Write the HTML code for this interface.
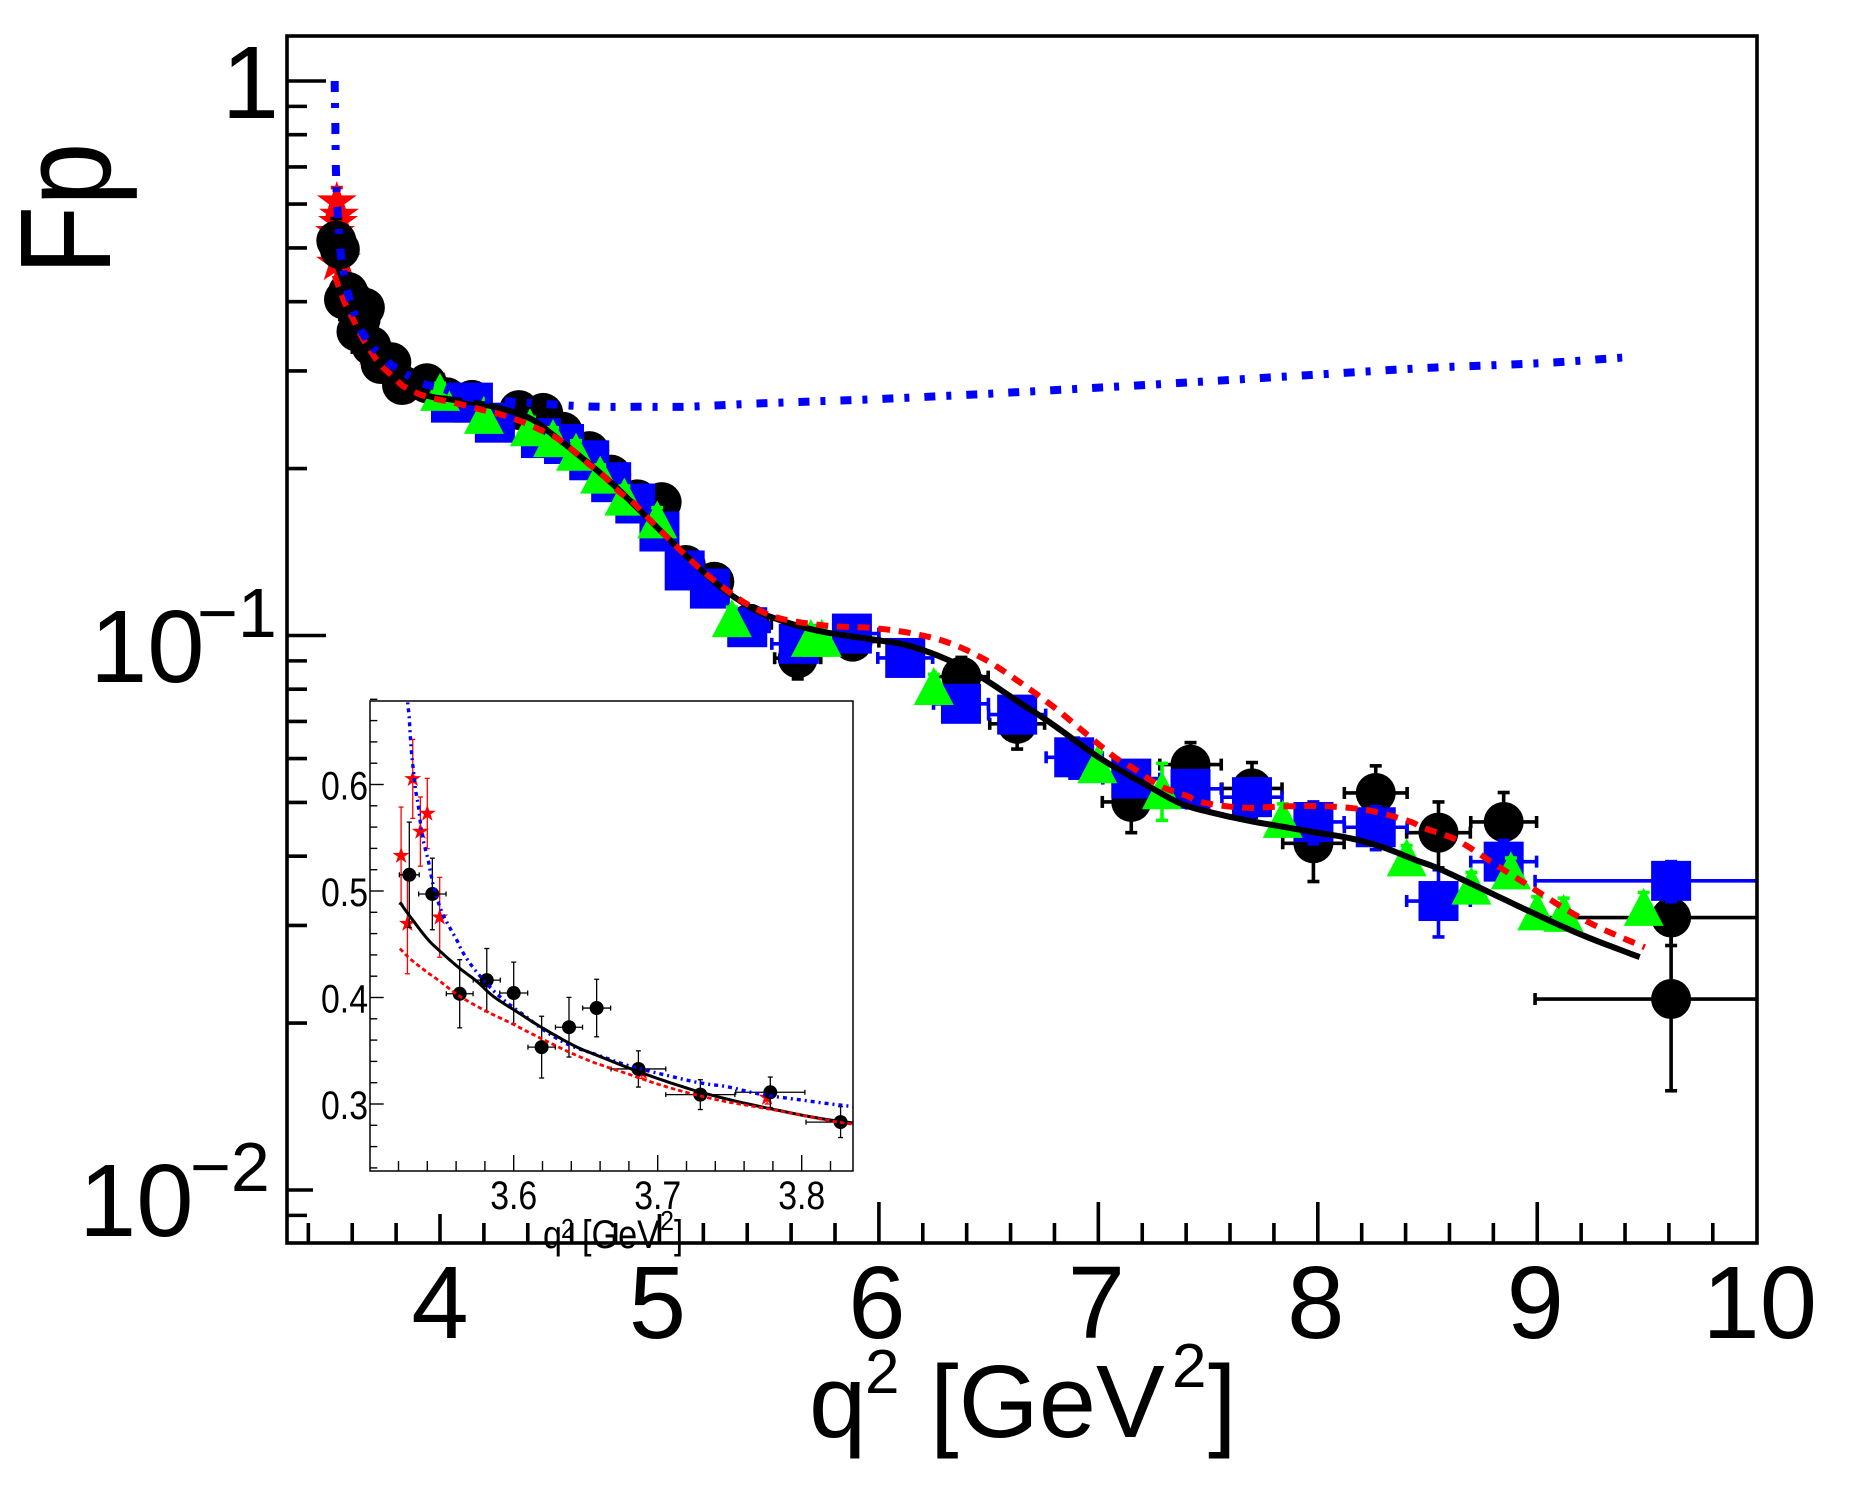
<!DOCTYPE html>
<html lang="en">
<head>
<meta charset="utf-8">
<title>Fp vs q2</title>
<style>
html,body{margin:0;padding:0;background:#fff;width:1861px;height:1506px;overflow:hidden}
svg{display:block}
text{font-family:"Liberation Sans",Arial,sans-serif;fill:#000}
</style>
</head>
<body>
<svg id="chart" xmlns="http://www.w3.org/2000/svg" width="1861" height="1506" viewBox="0 0 1861 1506">
  <defs>
    <clipPath id="main-clip"><rect x="287" y="36" width="1470" height="1207"/></clipPath>
    <clipPath id="inset-clip"><rect x="370" y="701" width="483" height="470"/></clipPath>
  </defs>
  <rect x="0" y="0" width="1861" height="1506" fill="#fff"/>
  <g id="main-ticks"></g>
  <g id="main-plot" clip-path="url(#main-clip)"></g>
  <rect x="287" y="36" width="1470" height="1207" fill="none" stroke="#000" stroke-width="3.6"/>
  <g id="main-labels"></g>
  <text transform="translate(110,275) rotate(-90) scale(0.93,1.06)" font-size="122">Fp</text>
  <g>
    <text x="809" y="1437" font-size="103">q</text>
    <text x="865" y="1393" font-size="62">2</text>
    <text x="930" y="1437" font-size="103">[GeV</text>
    <text x="1172" y="1387" font-size="62">2</text>
    <text x="1208" y="1437" font-size="103">]</text>
  </g>
  <rect x="313" y="690" width="552" height="524" fill="#fff"/>
  <g id="inset-ticks"></g>
  <g id="inset-plot" clip-path="url(#inset-clip)"></g>
  <rect x="370" y="701" width="483" height="470" fill="none" stroke="#000" stroke-width="1.5"/>
  <g id="inset-labels"></g>
  <g>
    <text x="543" y="1248" font-size="40" textLength="19" lengthAdjust="spacingAndGlyphs">q</text>
    <text x="561" y="1238" font-size="28" textLength="13" lengthAdjust="spacingAndGlyphs">2</text>
    <text x="582" y="1248" font-size="40" textLength="78" lengthAdjust="spacingAndGlyphs">[GeV</text>
    <text x="660" y="1230" font-size="28" textLength="14" lengthAdjust="spacingAndGlyphs">2</text>
    <text x="674" y="1248" font-size="40" textLength="9" lengthAdjust="spacingAndGlyphs">]</text>
  </g>
</svg>
<script>
// ---- data -----------------------------------------------------------------
const xTickValues = [4, 5, 6, 7, 8, 9, 10];
const xTickLabels = ["4", "5", "6", "7", "8", "9", "10"];
const insetXTicks = [3.6, 3.7, 3.8];
const insetXTickLabels = ["3.6", "3.7", "3.8"];
const insetYTicks = [0.3, 0.4, 0.5, 0.6];
const insetYTickLabels = ["0.3", "0.4", "0.5", "0.6"];

const blackQ = [3.5275,3.5435,3.5625,3.5813,3.6,3.6194,3.6384,3.6576,3.6866,3.7296,3.7782,3.827,3.94,4.03,4.146,4.36,4.47,4.56,4.68,4.78,4.9,5.01,5.12,5.25,5.41,5.63,5.88,6.376,6.63,7.15,7.42,7.70,7.98,8.264,8.55,8.847,9.61,9.61];
const blackV = [.5152,.4972,.4035,.4163,.4042,.3534,.3721,.3901,.3329,.3088,.311,.283,.285,.269,.266,.255,.252,.233,.215,.195,.176,.174,.134,.125,.105,.091,.0975,.0843,.0693,.0501,.0585,.053,.0422,.052,.0441,.0461,.031,.0221];
const blackEx = [.0069,.0095,.0093,.0094,.0097,.0095,.0094,.0097,.019,.024,.024,.024,.05,.05,.05,.05,.05,.05,.05,.05,.05,.05,.06,.06,.1,.105,.12,.122,.125,.132,.14,.137,.14,.143,.145,.15,.62,.62];
const blackEy = [.0495,.0336,.032,.0297,.029,.029,.028,.027,.017,.014,.0143,.0145,.012,.012,.012,.012,.012,.012,.012,.01,.01,.01,.008,.008,.008,.0075,.006,.007,.0069,.006,.0056,.006,.0062,.0062,.006,.006,.0034,.007];

const blueQ = [4.05,4.15,4.25,4.46,4.565,4.68,4.78,4.89,5.0,5.115,5.23,5.40,5.635,5.877,6.12,6.374,6.63,6.89,7.15,7.42,7.70,7.98,8.264,8.55,8.847,9.61];
const blueV = [.263,.263,.242,.227,.2215,.207,.189,.173,.154,.131,.1215,.1035,.0966,.1008,.0911,.0753,.072,.0603,.0552,.0529,.0511,.0461,.0451,.0332,.0391,.0361];
const blueEx = [.05,.05,.05,.05,.05,.05,.05,.05,.05,.05,.05,.1,.123,.123,.125,.125,.13,.128,.13,.14,.137,.14,.143,.145,.15,.62];
const blueEy = [.012,.012,.012,.012,.012,.012,.01,.01,.01,.008,.008,.007,.006,.006,.006,.005,.005,.005,.004,.004,.004,.004,.004,.0046,.0036,.003];

const greenQ = [4.0,4.2,4.41,4.515,4.62,4.73,4.84,4.99,5.33,5.69,5.74,6.25,6.995,7.29,7.84,8.405,8.70,8.88,9.0,9.12,9.485];
const greenV = [.275,.25,.2375,.227,.2145,.195,.178,.162,.1075,.099,.099,.0811,.0586,.0526,.0467,.0398,.0354,.0377,.0318,.0316,.0324];
const greenEy = [.01,.01,.01,.01,.01,.008,.008,.008,.005,.005,.005,.004,.003,.0062,.003,.002,.002,.002,.002,.002,.002];

const starQ = [3.5218,3.5262,3.5299,3.5352,3.54,3.5486,3.689,3.776,3.92,4.02];
const starV = [.5332,.4693,.6053,.5558,.5728,.4753,.33,.306,.2806,.274];
const starEy = [.0456,.047,.0371,.0325,.033,.0375,.006,.006,.012,.012];

const blackCurveQ = [3.521,3.5275,3.5396,3.5488,3.5623,3.5743,3.5859,3.5998,3.6183,3.6414,3.66,3.6866,3.7132,3.7398,3.7803,3.8266,3.9,3.97,4.05,4.21,4.40,4.515,4.67,4.79,4.925,5.087,5.25,5.374,5.495,5.72,5.985,6.125,6.30,6.472,6.647,6.786,7.007,7.235,7.385,7.54,7.69,7.84,7.995,8.146,8.297,8.45,8.55,8.75,8.98,9.207,9.467];
const blackCurveV = [.4894,.477,.4558,.4435,.4276,.4152,.401,.3887,.3728,.3551,.3445,.3304,.318,.3074,.295,.2837,.274,.269,.2665,.2605,.2475,.23,.2055,.187,.166,.1436,.125,.115,.1085,.102,.0982,.0961,.0909,.0838,.0754,.0694,.0601,.0533,.0496,.0477,.0463,.0452,.0441,.0431,.0415,.0393,.038,.0349,.0316,.0288,.0263];

const redCurveQ = [3.521,3.528,3.5396,3.5488,3.5627,3.5813,3.5975,3.6113,3.6368,3.6553,3.6785,3.7016,3.7248,3.7479,3.7826,3.8266,3.855,3.93,4.105,4.196,4.287,4.38,4.44,4.533,4.606,4.674,4.743,4.81,4.88,4.943,5.07,5.2,5.35,5.426,5.51,5.6,5.777,5.968,6.15,6.323,6.49,6.647,6.795,6.934,7.075,7.157,7.24,7.31,7.396,7.485,7.667,7.858,8.04,8.228,8.405,8.487,8.57,8.656,8.815,8.975,9.134,9.285,9.49];
const redCurveV = [.4459,.4364,.424,.4152,.401,.3869,.3763,.3668,.3498,.3392,.3286,.318,.3092,.3021,.294,.2827,.279,.2703,.2605,.255,.2497,.2424,.2365,.227,.2157,.2044,.1945,.1826,.1737,.1637,.1457,.1304,.1173,.1125,.1086,.1063,.104,.1032,.1009,.0969,.0902,.0821,.0744,.067,.0603,.0577,.0548,.0529,.0515,.0499,.0489,.0492,.0492,.0484,.0464,.0449,.0438,.0423,.0385,.0351,.032,.0297,.0274];

const blueCurveQ = [3.52,3.5215,3.523,3.524,3.525,3.5264,3.5273,3.528,3.5287,3.5296,3.531,3.532,3.5338,3.5366,3.5407,3.5442,3.55,3.5553,3.5604,3.565,3.5731,3.5847,3.5917,3.5998,3.609,3.6229,3.6391,3.6576,3.6762,3.69,3.7063,3.7294,3.7479,3.7711,3.7988,3.8359,3.92,4.01,4.15,4.55,4.73,4.925,5.116,5.31,5.49,6.0,6.62,7.41,7.95,8.49,9.03,9.44];
const blueCurveV = [1.0,.917,.84,.77,.71,.6767,.666,.65,.636,.622,.606,.5936,.5795,.5512,.5283,.5053,.4806,.4664,.4541,.4417,.4258,.4081,.3993,.3905,.3816,.3675,.3551,.3463,.3375,.3322,.3269,.3198,.3163,.3092,.3039,.2975,.285,.279,.268,.2605,.2585,.2585,.2585,.2605,.2625,.267,.2745,.286,.2947,.3037,.31,.3183];

// ---- axis functions --------------------------------------------------------
const mainX = q => 440 + 219.45 * (q - 4);
const mainY = v => 81 - 554.5 * Math.log10(v);
const insetX = q => 513.7 + 1440 * (q - 3.6);
const insetY = v => 891 - 1065 * (v - 0.5);

// ---- drawing helpers -------------------------------------------------------
const NS = 'http://www.w3.org/2000/svg';
const byId = id => document.getElementById(id);

function drawLine(parent, x1, y1, x2, y2, color, w, name) {
  const el = document.createElementNS(NS, 'line');
  
  
  el.setAttribute('x1', x1);
  el.setAttribute('y1', y1);
  el.setAttribute('x2', x2);
  el.setAttribute('y2', y2);
  el.setAttribute('stroke', color);
  el.setAttribute('stroke-width', w);
  parent.appendChild(el);
}

function drawText(parent, x, y, size, str, anchor, name, stretch) {
  const el = document.createElementNS(NS, 'text');
  
  
  el.setAttribute('x', x);
  el.setAttribute('y', y);
  el.setAttribute('font-size', size);
  el.setAttribute('text-anchor', anchor);
  if (stretch) {
    el.setAttribute('textLength', stretch);
    el.setAttribute('lengthAdjust', 'spacingAndGlyphs');
  }
  el.textContent = str;
  parent.appendChild(el);
}

function starPoints(cx, cy, r) {
  const pts = [];
  for (let i = 0; i < 10; i++) {
    const rad = i % 2 === 0 ? r : r * 0.38;
    const a = -Math.PI / 2 + i * Math.PI / 5;
    pts.push((cx + rad * Math.cos(a)).toFixed(1) + ',' + (cy + rad * Math.sin(a)).toFixed(1));
  }
  return pts.join(' ');
}

function drawMarker(parent, kind, cx, cy, s, color, name) {
  let el;
  if (kind === 'circle') {
    el = document.createElementNS(NS, 'circle');
    el.setAttribute('cx', cx);
    el.setAttribute('cy', cy);
    el.setAttribute('r', s);
  } else if (kind === 'square') {
    el = document.createElementNS(NS, 'rect');
    el.setAttribute('x', cx - s);
    el.setAttribute('y', cy - s);
    el.setAttribute('width', 2 * s);
    el.setAttribute('height', 2 * s);
  } else if (kind === 'triangle') {
    el = document.createElementNS(NS, 'polygon');
    el.setAttribute('points', cx + ',' + (cy - s * 0.95) + ' ' + (cx + s) + ',' + (cy + s * 0.95) + ' ' + (cx - s) + ',' + (cy + s * 0.95));
  } else {
    el = document.createElementNS(NS, 'polygon');
    el.setAttribute('points', starPoints(cx, cy, s));
  }
  
  
  el.setAttribute('fill', color);
  parent.appendChild(el);
}

function drawSeries(parent, fx, fy, kind, size, color, lw, cap, qs, vs, exs, eys, name, maxQ) {
  const group = document.createElementNS(NS, 'g');
  
  
  parent.appendChild(group);
  qs.forEach((q, i) => {
    if (q > maxQ) return;
    const cx = fx(q), cy = fy(vs[i]);
    const ex = exs ? exs[i] : 0, ey = eys ? eys[i] : 0;
    if (ex > 0) {
      const a = fx(q - ex), b = fx(q + ex);
      drawLine(group, a, cy, b, cy, color, lw, name + '-x-error');
      drawLine(group, a, cy - cap, a, cy + cap, color, lw, name + '-x-error-cap');
      drawLine(group, b, cy - cap, b, cy + cap, color, lw, name + '-x-error-cap');
    }
    if (ey > 0) {
      const a = fy(vs[i] + ey), b = fy(vs[i] - ey);
      drawLine(group, cx, a, cx, b, color, lw, name + '-y-error');
      drawLine(group, cx - cap, a, cx + cap, a, color, lw, name + '-y-error-cap');
      drawLine(group, cx - cap, b, cx + cap, b, color, lw, name + '-y-error-cap');
    }
  });
  qs.forEach((q, i) => {
    if (q > maxQ) return;
    drawMarker(group, kind, fx(q), fy(vs[i]), size, color, name + '-point');
  });
}

// Smooth the read curve points with a Catmull-Rom spline in pixel space.
function smoothPoints(fx, fy, qs, vs) {
  const px = qs.map(fx), py = vs.map(fy), out = [];
  const n = px.length;
  for (let i = 0; i < n - 1; i++) {
    const i0 = Math.max(i - 1, 0), i3 = Math.min(i + 2, n - 1);
    for (let s = 0; s < 6; s++) {
      const t = s / 6, t2 = t * t, t3 = t2 * t;
      const x = 0.5 * (2 * px[i] + (px[i + 1] - px[i0]) * t + (2 * px[i0] - 5 * px[i] + 4 * px[i + 1] - px[i3]) * t2 + (3 * px[i] - px[i0] - 3 * px[i + 1] + px[i3]) * t3);
      const y = 0.5 * (2 * py[i] + (py[i + 1] - py[i0]) * t + (2 * py[i0] - 5 * py[i] + 4 * py[i + 1] - py[i3]) * t2 + (3 * py[i] - py[i0] - 3 * py[i + 1] + py[i3]) * t3);
      out.push(x.toFixed(1) + ',' + y.toFixed(1));
    }
  }
  out.push(px[n - 1].toFixed(1) + ',' + py[n - 1].toFixed(1));
  return out.join(' ');
}

function drawCurve(parent, fx, fy, qs, vs, color, w, dash, name) {
  const el = document.createElementNS(NS, 'polyline');
  
  
  el.setAttribute('points', smoothPoints(fx, fy, qs, vs));
  el.setAttribute('fill', 'none');
  el.setAttribute('stroke', color);
  el.setAttribute('stroke-width', w);
  el.setAttribute('stroke-linejoin', 'round');
  if (dash) el.setAttribute('stroke-dasharray', dash);
  parent.appendChild(el);
}

// ---- main ticks ------------------------------------------------------------
const mt = byId('main-ticks');
for (let k = 0; k < 33; k++) {
  const q = 3.4 + k * 0.2;
  const major = k % 5 === 3;
  drawLine(mt, mainX(q), 1243, mainX(q), 1243 - (major ? 41 : 20), '#000', 3.6, major ? 'x-major-tick' : 'x-minor-tick');
}
[0.009, 0.01, 0.02, 0.03, 0.04, 0.05, 0.06, 0.07, 0.08, 0.09, 0.1, 0.2, 0.3, 0.4, 0.5, 0.6, 0.7, 0.8, 0.9, 1].forEach(v => {
  const major = v === 0.01 || v === 0.1 || v === 1;
  drawLine(mt, 287, mainY(v), 287 + (major ? 39 : 20), mainY(v), '#000', 3.6, major ? 'y-major-tick' : 'y-minor-tick');
});

// ---- main labels -----------------------------------------------------------
const ml = byId('main-labels');
xTickValues.forEach((q, i) => {
  const nudge = q === 10 ? 3 : (q === 4 ? 0 : -2);
  drawText(ml, mainX(q) + nudge, 1338, 103, xTickLabels[i], 'middle', 'x-tick-label');
});
drawText(ml, 279, mainY(1) + 37, 103, '1', 'end', 'y-tick-label-1');
drawText(ml, 90, mainY(0.1) + 46.5, 103, '10', 'start', 'y-tick-label-0.1');
drawText(ml, 197, mainY(0.1) + 1.5, 70, '\u22121', 'start', 'y-tick-exponent-0.1');
drawText(ml, 79, mainY(0.01) + 46, 103, '10', 'start', 'y-tick-label-0.01');
drawText(ml, 190, mainY(0.01) + 1, 70, '\u22122', 'start', 'y-tick-exponent-0.01');

// ---- main plot -------------------------------------------------------------
const mp = byId('main-plot');
drawSeries(mp, mainX, mainY, 'star', 21, '#ff0000', 3.6, 6, starQ, starV, null, starEy, 'red-star', 99);
drawSeries(mp, mainX, mainY, 'circle', 20, '#000000', 3.6, 6, blackQ, blackV, blackEx, blackEy, 'black-circle', 99);
drawSeries(mp, mainX, mainY, 'square', 20, '#0000ff', 3.6, 6, blueQ, blueV, blueEx, blueEy, 'blue-square', 99);
drawSeries(mp, mainX, mainY, 'triangle', 20, '#00ff00', 3.6, 6, greenQ, greenV, null, greenEy, 'green-triangle', 99);
drawCurve(mp, mainX, mainY, blackCurveQ, blackCurveV, '#000000', 6, null, 'black-solid-curve');
drawCurve(mp, mainX, mainY, redCurveQ, redCurveV, '#ff0000', 6, '12 8.7', 'red-dashed-curve');
drawCurve(mp, mainX, mainY, blueCurveQ, blueCurveV, '#0000ff', 8, '11 11 5 15', 'blue-dash-dot-curve');

// ---- inset ticks -----------------------------------------------------------
const it = byId('inset-ticks');
for (let k = 0; k < 16; k++) {
  const q = 3.52 + k * 0.02;
  const major = k % 5 === 4;
  drawLine(it, insetX(q), 1171, insetX(q), 1171 - (major ? 16 : 10), '#000', 1.4, major ? 'inset-x-major-tick' : 'inset-x-minor-tick');
}
for (let k = 0; k < 23; k++) {
  const v = 0.24 + k * 0.02;
  const major = k % 5 === 3;
  drawLine(it, 370, insetY(v), 370 + (major ? 13.7 : 7.3), insetY(v), '#000', 1.4, major ? 'inset-y-major-tick' : 'inset-y-minor-tick');
}

// ---- inset labels ----------------------------------------------------------
const il = byId('inset-labels');
insetXTicks.forEach((q, i) => {
  drawText(il, insetX(q), 1209, 40, insetXTickLabels[i], 'middle', 'inset-x-tick-label', 47);
});
insetYTicks.forEach((v, i) => {
  drawText(il, 368, insetY(v) + 15, 40, insetYTickLabels[i], 'end', 'inset-y-tick-label', 47);
});

// ---- inset plot ------------------------------------------------------------
const ip = byId('inset-plot');
drawSeries(ip, insetX, insetY, 'star', 9, '#ff0000', 1.3, 2.5, starQ, starV, null, starEy, 'inset-red-star', 3.9);
drawSeries(ip, insetX, insetY, 'circle', 7, '#000000', 1.3, 2.5, blackQ, blackV, blackEx, blackEy, 'inset-black-circle', 3.9);
drawCurve(ip, insetX, insetY, blueCurveQ, blueCurveV, '#0000ff', 3.4, '4 4 2 4', 'inset-blue-dash-dot-curve');
drawCurve(ip, insetX, insetY, blackCurveQ, blackCurveV, '#000000', 3, null, 'inset-black-solid-curve');
drawCurve(ip, insetX, insetY, redCurveQ, redCurveV, '#ff0000', 2.8, '4.5 3', 'inset-red-dashed-curve');
</script>
</body>
</html>
